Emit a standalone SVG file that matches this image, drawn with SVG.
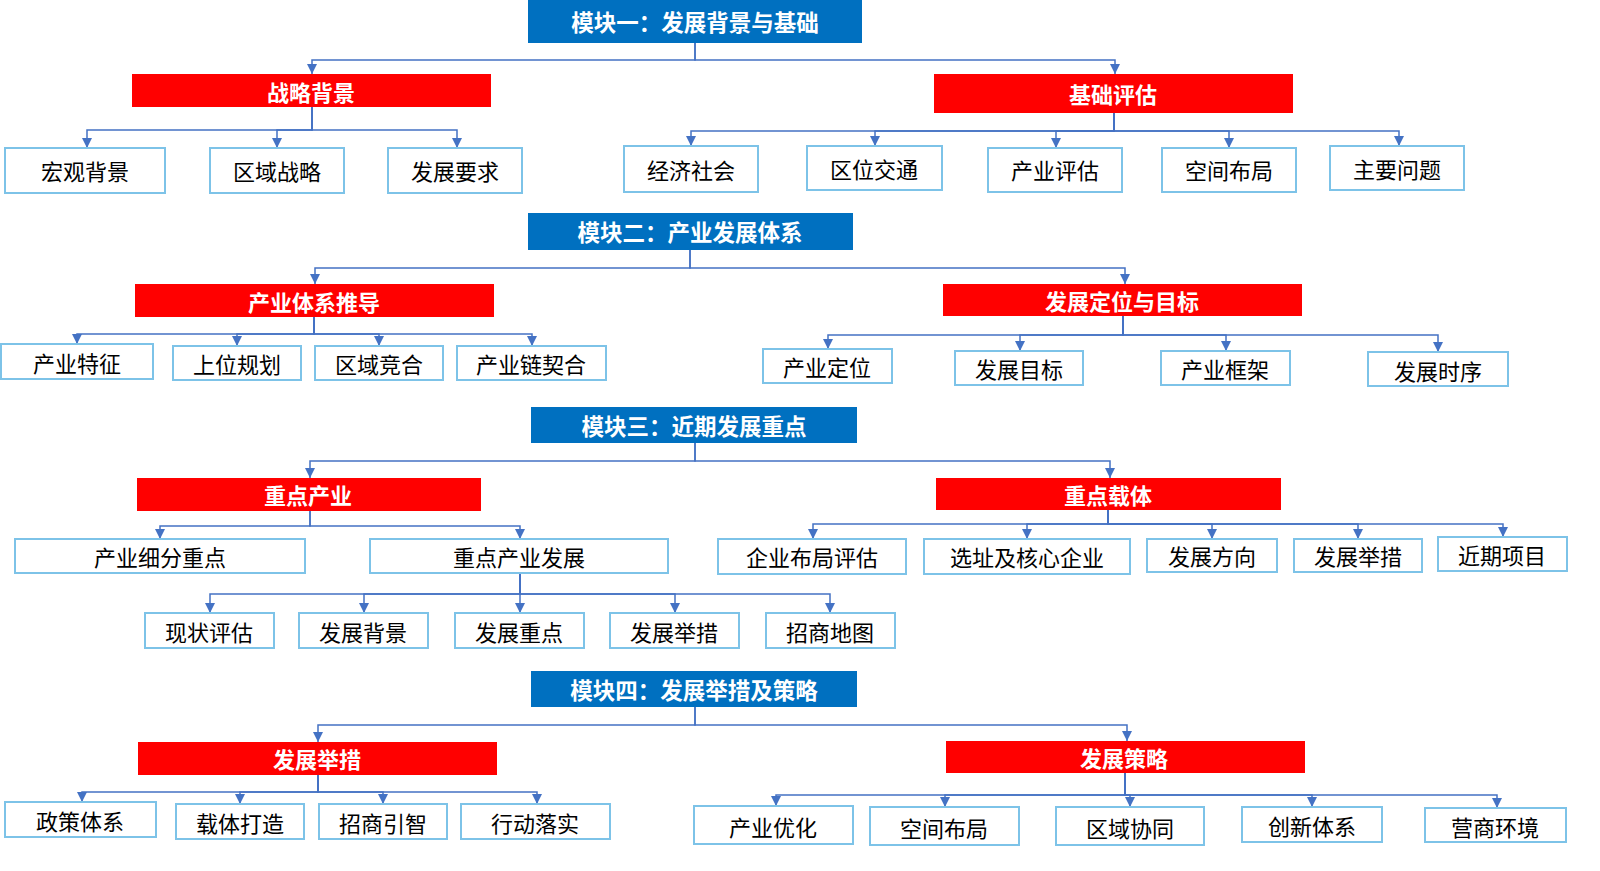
<svg xmlns="http://www.w3.org/2000/svg" width="1600" height="871" viewBox="0 0 1600 871">
<defs>
<marker id="ah" markerUnits="userSpaceOnUse" markerWidth="10" markerHeight="10" refX="10" refY="5" orient="auto">
<path d="M0,0 L10,5 L0,10 z" fill="#4472C4"/>
</marker>
<style>
.mod{fill:#0070C0}
.red{fill:#FF0000}
.leaf{fill:#FFFFFF;stroke:#7DC3E8;stroke-width:2}
.tm{font-family:"Noto Sans CJK SC","Noto Sans",sans-serif;font-size:22.5px;font-weight:bold;fill:#FFFFFF;text-anchor:middle;dominant-baseline:central}
.tr{font-family:"Noto Sans CJK SC","Noto Sans",sans-serif;font-size:22px;font-weight:bold;fill:#FFFFFF;text-anchor:middle;dominant-baseline:central}
.tl{font-family:"Noto Sans CJK SC","Noto Sans",sans-serif;font-size:22px;fill:#000000;text-anchor:middle;dominant-baseline:central}
.c{fill:none;stroke:#4472C4;stroke-width:1.5;marker-end:url(#ah)}
</style>
</defs>
<rect width="1600" height="871" fill="#FFFFFF"/>
<g id="connectors">
<path class="c" d="M695,43 V60 H312 V74"/>
<path class="c" d="M695,43 V60 H1115 V74"/>
<path class="c" d="M312,107 V130 H87 V148"/>
<path class="c" d="M312,107 V130 H277 V148"/>
<path class="c" d="M312,107 V130 H457 V148"/>
<path class="c" d="M1114,113 V131 H691 V146"/>
<path class="c" d="M1114,113 V131 H875 V146"/>
<path class="c" d="M1114,113 V131 H1056 V148"/>
<path class="c" d="M1114,113 V131 H1229 V148"/>
<path class="c" d="M1114,113 V131 H1399 V146"/>
<path class="c" d="M690,250 V268 H315 V284"/>
<path class="c" d="M690,250 V268 H1125 V284"/>
<path class="c" d="M314,317 V334 H77 V344"/>
<path class="c" d="M314,317 V334 H237 V346"/>
<path class="c" d="M314,317 V334 H379 V346"/>
<path class="c" d="M314,317 V334 H532 V346"/>
<path class="c" d="M1123,316 V335 H828 V349"/>
<path class="c" d="M1123,316 V335 H1020 V351"/>
<path class="c" d="M1123,316 V335 H1226 V351"/>
<path class="c" d="M1123,316 V335 H1438 V352"/>
<path class="c" d="M695,443 V461 H310 V478"/>
<path class="c" d="M695,443 V461 H1110 V478"/>
<path class="c" d="M310,511 V526 H160 V539"/>
<path class="c" d="M310,511 V526 H520 V539"/>
<path class="c" d="M520,573 V594 H210 V613"/>
<path class="c" d="M520,573 V594 H364 V613"/>
<path class="c" d="M520,573 V594 H520 V613"/>
<path class="c" d="M520,573 V594 H675 V613"/>
<path class="c" d="M520,573 V594 H830 V613"/>
<path class="c" d="M1108,510 V524 H813 V539"/>
<path class="c" d="M1108,510 V524 H1027 V539"/>
<path class="c" d="M1108,510 V524 H1212 V539"/>
<path class="c" d="M1108,510 V524 H1358 V539"/>
<path class="c" d="M1108,510 V524 H1503 V537"/>
<path class="c" d="M695,707 V725 H318 V742"/>
<path class="c" d="M695,707 V725 H1127 V741"/>
<path class="c" d="M318,775 V792 H82 V802"/>
<path class="c" d="M318,775 V792 H240 V804"/>
<path class="c" d="M318,775 V792 H383 V804"/>
<path class="c" d="M318,775 V792 H537 V804"/>
<path class="c" d="M1125,773 V795 H776 V806"/>
<path class="c" d="M1125,773 V795 H945 V807"/>
<path class="c" d="M1125,773 V795 H1130 V807"/>
<path class="c" d="M1125,773 V795 H1312 V807"/>
<path class="c" d="M1125,773 V795 H1497 V808"/>
</g>

<g id="m1"><rect class="mod" x="528" y="0" width="334" height="43"/><text class="tm" x="695" y="21">模块一：发展背景与基础</text></g>
<g id="m1a"><rect class="red" x="132" y="74" width="359" height="33"/><text class="tr" x="311" y="91">战略背景</text></g>
<g id="m1b"><rect class="red" x="934" y="74" width="359" height="39"/><text class="tr" x="1113" y="93">基础评估</text></g>
<g id="n11"><rect class="leaf" x="5" y="148" width="160" height="45"/><text class="tl" x="85" y="170">宏观背景</text></g>
<g id="n12"><rect class="leaf" x="210" y="148" width="134" height="45"/><text class="tl" x="277" y="170">区域战略</text></g>
<g id="n13"><rect class="leaf" x="388" y="148" width="134" height="45"/><text class="tl" x="455" y="170">发展要求</text></g>
<g id="n14"><rect class="leaf" x="624" y="146" width="134" height="46"/><text class="tl" x="691" y="169">经济社会</text></g>
<g id="n15"><rect class="leaf" x="807" y="146" width="135" height="44"/><text class="tl" x="874" y="168">区位交通</text></g>
<g id="n16"><rect class="leaf" x="988" y="148" width="134" height="44"/><text class="tl" x="1055" y="169">产业评估</text></g>
<g id="n17"><rect class="leaf" x="1162" y="148" width="134" height="44"/><text class="tl" x="1229" y="169">空间布局</text></g>
<g id="n18"><rect class="leaf" x="1330" y="146" width="134" height="44"/><text class="tl" x="1397" y="168">主要问题</text></g>

<g id="m2"><rect class="mod" x="528" y="213" width="325" height="37"/><text class="tm" x="690" y="231">模块二：产业发展体系</text></g>
<g id="m2a"><rect class="red" x="135" y="284" width="359" height="33"/><text class="tr" x="314" y="301">产业体系推导</text></g>
<g id="m2b"><rect class="red" x="943" y="284" width="359" height="32"/><text class="tr" x="1122" y="300">发展定位与目标</text></g>
<g id="n21"><rect class="leaf" x="1" y="344" width="152" height="35"/><text class="tl" x="77" y="362">产业特征</text></g>
<g id="n22"><rect class="leaf" x="173" y="346" width="128" height="34"/><text class="tl" x="237" y="363">上位规划</text></g>
<g id="n23"><rect class="leaf" x="315" y="346" width="128" height="34"/><text class="tl" x="379" y="363">区域竞合</text></g>
<g id="n24"><rect class="leaf" x="457" y="346" width="149" height="34"/><text class="tl" x="531" y="363">产业链契合</text></g>
<g id="n25"><rect class="leaf" x="763" y="349" width="129" height="34"/><text class="tl" x="827" y="366">产业定位</text></g>
<g id="n26"><rect class="leaf" x="955" y="351" width="128" height="34"/><text class="tl" x="1019" y="368">发展目标</text></g>
<g id="n27"><rect class="leaf" x="1161" y="351" width="129" height="34"/><text class="tl" x="1225" y="368">产业框架</text></g>
<g id="n28"><rect class="leaf" x="1368" y="352" width="140" height="34"/><text class="tl" x="1438" y="370">发展时序</text></g>

<g id="m3"><rect class="mod" x="531" y="407" width="326" height="36"/><text class="tm" x="694" y="425">模块三：近期发展重点</text></g>
<g id="m3a"><rect class="red" x="137" y="478" width="344" height="33"/><text class="tr" x="308" y="494">重点产业</text></g>
<g id="m3b"><rect class="red" x="936" y="478" width="345" height="32"/><text class="tr" x="1108" y="494">重点载体</text></g>
<g id="n31"><rect class="leaf" x="15" y="539" width="290" height="34"/><text class="tl" x="160" y="556">产业细分重点</text></g>
<g id="n32"><rect class="leaf" x="370" y="539" width="298" height="34"/><text class="tl" x="519" y="556">重点产业发展</text></g>
<g id="n33"><rect class="leaf" x="145" y="613" width="129" height="35"/><text class="tl" x="209" y="631">现状评估</text></g>
<g id="n34"><rect class="leaf" x="299" y="613" width="129" height="35"/><text class="tl" x="363" y="631">发展背景</text></g>
<g id="n35"><rect class="leaf" x="455" y="613" width="129" height="35"/><text class="tl" x="519" y="631">发展重点</text></g>
<g id="n36"><rect class="leaf" x="610" y="613" width="129" height="35"/><text class="tl" x="674" y="631">发展举措</text></g>
<g id="n37"><rect class="leaf" x="766" y="613" width="129" height="35"/><text class="tl" x="830" y="631">招商地图</text></g>
<g id="n38"><rect class="leaf" x="718" y="539" width="188" height="35"/><text class="tl" x="812" y="556">企业布局评估</text></g>
<g id="n39"><rect class="leaf" x="924" y="539" width="206" height="35"/><text class="tl" x="1027" y="556">选址及核心企业</text></g>
<g id="n310"><rect class="leaf" x="1147" y="539" width="130" height="33"/><text class="tl" x="1212" y="555">发展方向</text></g>
<g id="n311"><rect class="leaf" x="1294" y="539" width="128" height="33"/><text class="tl" x="1358" y="555">发展举措</text></g>
<g id="n312"><rect class="leaf" x="1438" y="537" width="129" height="34"/><text class="tl" x="1502" y="554">近期项目</text></g>

<g id="m4"><rect class="mod" x="531" y="671" width="326" height="36"/><text class="tm" x="694" y="689">模块四：发展举措及策略</text></g>
<g id="m4a"><rect class="red" x="138" y="742" width="359" height="33"/><text class="tr" x="317" y="758">发展举措</text></g>
<g id="m4b"><rect class="red" x="946" y="741" width="359" height="32"/><text class="tr" x="1124" y="757">发展策略</text></g>
<g id="n41"><rect class="leaf" x="5" y="802" width="151" height="35"/><text class="tl" x="80" y="820">政策体系</text></g>
<g id="n42"><rect class="leaf" x="176" y="804" width="128" height="35"/><text class="tl" x="240" y="822">载体打造</text></g>
<g id="n43"><rect class="leaf" x="319" y="804" width="128" height="35"/><text class="tl" x="383" y="822">招商引智</text></g>
<g id="n44"><rect class="leaf" x="461" y="804" width="149" height="35"/><text class="tl" x="535" y="822">行动落实</text></g>
<g id="n45"><rect class="leaf" x="694" y="806" width="159" height="38"/><text class="tl" x="773" y="826">产业优化</text></g>
<g id="n46"><rect class="leaf" x="870" y="807" width="149" height="38"/><text class="tl" x="944" y="827">空间布局</text></g>
<g id="n47"><rect class="leaf" x="1056" y="807" width="148" height="38"/><text class="tl" x="1130" y="827">区域协同</text></g>
<g id="n48"><rect class="leaf" x="1242" y="807" width="140" height="35"/><text class="tl" x="1312" y="825">创新体系</text></g>
<g id="n49"><rect class="leaf" x="1425" y="808" width="141" height="34"/><text class="tl" x="1495" y="826">营商环境</text></g>
</svg>
